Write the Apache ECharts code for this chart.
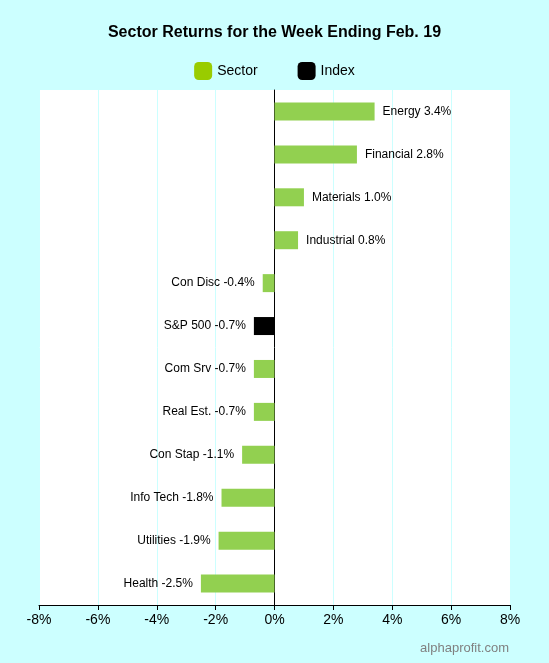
<!DOCTYPE html>
<html><head><meta charset="utf-8">
<script src="https://cdn.jsdelivr.net/npm/echarts@6/dist/echarts.min.js"></script>
<style>html,body{margin:0;padding:0;background:#ccffff;}#c{width:549px;height:663px;}</style>
</head><body><div id="c"></div>
<script>
const categories=["Energy","Financial","Materials","Industrial","Con Disc","S&P 500","Com Srv","Real Est.","Con Stap","Info Tech","Utilities","Health"];
const sectorValues=[3.4,2.8,1.0,0.8,-0.4,null,-0.7,-0.7,-1.1,-1.8,-1.9,-2.5];
const indexValues=[null,null,null,null,null,-0.7,null,null,null,null,null,null];
const xTicks=[-8,-6,-4,-2,0,2,4,6,8];
const chart=echarts.init(document.getElementById('c'));
const lbl={show:true,color:'#000',fontSize:12,fontFamily:'Liberation Sans, Arial',distance:8,
 formatter:p=>p.name+' '+p.value.toFixed(1)+'%'};
function mk(name,data,color){
 return {name,type:'bar',stack:'s',barWidth:18,data:data.map(v=>v==null?null:{value:v,label:Object.assign({},lbl,{position:v>=0?'right':'left'})}),
  itemStyle:{color},label:lbl};
}
chart.setOption({
 backgroundColor:'#ccffff',
 textStyle:{fontFamily:'Liberation Sans, Arial'},
 title:{text:'Sector Returns for the Week Ending Feb. 19',left:'center',top:20,textStyle:{fontSize:16,fontWeight:'bold',color:'#000'}},
 legend:{top:57,itemWidth:18,itemHeight:18,itemGap:40,textStyle:{fontSize:14,color:'#000'},
  data:[{name:'Sector',itemStyle:{color:'#99cc00'}},{name:'Index',itemStyle:{color:'#000'}}]},
 grid:{left:39,right:39,top:90,bottom:58,backgroundColor:'#fff',show:true,borderWidth:0},
 xAxis:{type:'value',min:-8,max:8,interval:2,
  axisLabel:{formatter:v=>xTicks.includes(v)?v+'%':'',fontSize:14,color:'#000'},
  axisLine:{show:true,lineStyle:{color:'#000'}},axisTick:{show:true,length:5,lineStyle:{color:'#000'}},
  splitLine:{lineStyle:{color:'#ccffff'}}},
 yAxis:{type:'category',data:categories,inverse:true,axisLabel:{show:false},axisTick:{show:false},
  axisLine:{show:true,onZero:true,lineStyle:{color:'#000'}}},
 graphic:[{type:'text',right:40,bottom:8,style:{text:'alphaprofit.com',fill:'#808080',fontSize:13,fontFamily:'Liberation Sans, Arial'}}],
 series:[mk('Sector',sectorValues,'#92d050'),mk('Index',indexValues,'#000')]
});
</script></body></html>
